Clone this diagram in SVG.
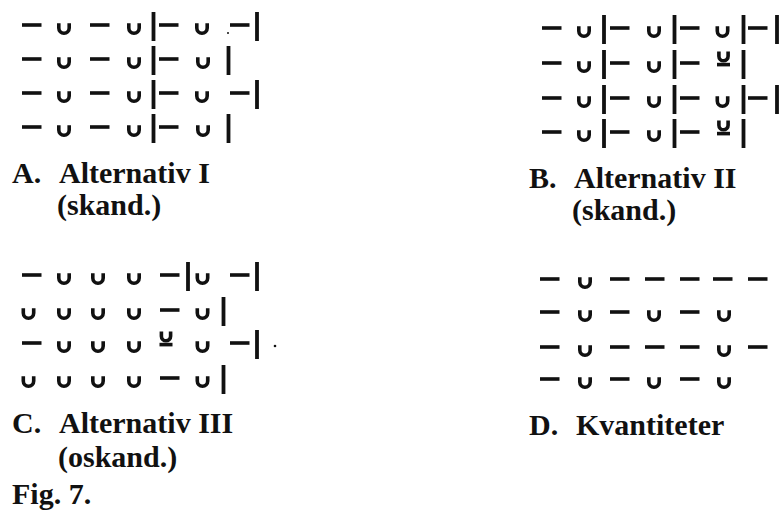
<svg xmlns="http://www.w3.org/2000/svg" xmlns:xlink="http://www.w3.org/1999/xlink" width="781" height="514" viewBox="0 0 781 514">
<style>
.lbl{font-family:"Liberation Serif","Times New Roman",serif;font-weight:bold;font-size:30px;fill:#111}
.s{stroke:#111;stroke-width:3.6;fill:none;stroke-linecap:butt}
</style>
<defs>
<path id="d" class="s" d="M0,0h19.5"/>
<path id="b" class="s" d="M-5.2,-1.8V3A5.2,5.2 0 0 0 5.2,3V-1.8"/>
<rect id="v" x="-1.9" y="-13" width="3.8" height="29" fill="#111"/>
<g id="x">
<path class="s" d="M-4.6,-11.5V-6.8A4.6,4.6 0 0 0 4.6,-6.8V-11.5"/>
<path class="s" d="M-6.5,1.6h13"/>
</g>
</defs>
<rect width="781" height="514" fill="#fff"/>

<g id="panelA">
<g transform="translate(0,25)">
<use href="#d" x="22"/><use href="#b" x="64"/><use href="#d" x="90"/><use href="#b" x="134"/><use href="#v" x="153.5"/><use href="#d" x="159"/><use href="#b" x="202"/><circle cx="228" cy="8" r="1" fill="#111"/><use href="#d" x="230"/><use href="#v" x="257"/>
</g>
<g transform="translate(0,59)">
<use href="#d" x="22"/><use href="#b" x="64"/><use href="#d" x="90"/><use href="#b" x="134"/><use href="#v" x="153.5"/><use href="#d" x="159"/><use href="#b" x="203"/><use href="#v" x="228.5"/>
</g>
<g transform="translate(0,93)">
<use href="#d" x="22"/><use href="#b" x="64"/><use href="#d" x="90"/><use href="#b" x="134"/><use href="#v" x="153.5"/><use href="#d" x="159"/><use href="#b" x="202"/><use href="#d" x="230"/><use href="#v" x="257"/>
</g>
<g transform="translate(0,127)">
<use href="#d" x="22"/><use href="#b" x="64"/><use href="#d" x="90"/><use href="#b" x="134"/><use href="#v" x="153.5"/><use href="#d" x="159"/><use href="#b" x="203"/><use href="#v" x="228.5"/>
</g>
<text class="lbl" x="12" y="183">A.</text>
<text class="lbl" x="59" y="183">Alternativ I</text>
<text class="lbl" x="57" y="215">(skand.)</text>
</g>

<g id="panelB">
<g transform="translate(0,28)">
<use href="#d" x="542"/><use href="#b" x="584"/><use href="#v" x="604"/><use href="#d" x="610"/><use href="#b" x="654"/><use href="#v" x="674.5"/><use href="#d" x="680"/><use href="#b" x="722.5"/><use href="#v" x="743.5"/><use href="#d" x="748"/><use href="#v" x="777"/>
</g>
<g transform="translate(0,63)">
<use href="#d" x="542"/><use href="#b" x="584"/><use href="#v" x="604"/><use href="#d" x="610"/><use href="#b" x="654"/><use href="#v" x="674.5"/><use href="#d" x="680"/><use href="#x" x="723.5"/><use href="#v" x="743.5"/>
</g>
<g transform="translate(0,98)">
<use href="#d" x="542"/><use href="#b" x="584"/><use href="#v" x="604"/><use href="#d" x="610"/><use href="#b" x="654"/><use href="#v" x="674.5"/><use href="#d" x="680"/><use href="#b" x="722.5"/><use href="#v" x="743.5"/><use href="#d" x="748"/><use href="#v" x="777"/>
</g>
<g transform="translate(0,132)">
<use href="#d" x="542"/><use href="#b" x="584"/><use href="#v" x="604"/><use href="#d" x="610"/><use href="#b" x="654"/><use href="#v" x="674.5"/><use href="#d" x="680"/><use href="#x" x="723.5"/><use href="#v" x="743.5"/>
</g>
<text class="lbl" x="529" y="188">B.</text>
<text class="lbl" x="574" y="188">Alternativ II</text>
<text class="lbl" x="572" y="220">(skand.)</text>
</g>

<g id="panelC">
<g transform="translate(0,275)">
<use href="#d" x="22"/><use href="#b" x="64"/><use href="#b" x="98"/><use href="#b" x="134"/><use href="#d" x="160"/><use href="#v" x="188"/><use href="#b" x="202.5"/><use href="#d" x="230"/><use href="#v" x="257"/>
</g>
<g transform="translate(0,310)">
<use href="#b" x="28.5"/><use href="#b" x="64"/><use href="#b" x="98"/><use href="#b" x="134"/><use href="#d" x="160"/><use href="#b" x="202.5"/><use href="#v" x="223.5"/>
</g>
<g transform="translate(0,343)">
<use href="#d" x="22"/><use href="#b" x="64"/><use href="#b" x="98"/><use href="#b" x="134"/><use href="#x" x="166"/><use href="#b" x="202.5"/><use href="#d" x="230"/><use href="#v" x="257"/><circle cx="275" cy="3" r="1.3" fill="#111"/>
</g>
<g transform="translate(0,378)">
<use href="#b" x="28.5"/><use href="#b" x="64"/><use href="#b" x="98"/><use href="#b" x="134"/><use href="#d" x="160"/><use href="#b" x="202.5"/><use href="#v" x="223.5"/>
</g>
<text class="lbl" x="12" y="433">C.</text>
<text class="lbl" x="59" y="433">Alternativ III</text>
<text class="lbl" x="58" y="467">(oskand.)</text>
</g>

<g id="panelD">
<g transform="translate(0,279)">
<use href="#d" x="540"/><use href="#b" x="585"/><use href="#d" x="610"/><use href="#d" x="645"/><use href="#d" x="680"/><use href="#d" x="713"/><use href="#d" x="748"/>
</g>
<g transform="translate(0,312)">
<use href="#d" x="540"/><use href="#b" x="585"/><use href="#d" x="610"/><use href="#b" x="654"/><use href="#d" x="680"/><use href="#b" x="724"/>
</g>
<g transform="translate(0,347)">
<use href="#d" x="540"/><use href="#b" x="585"/><use href="#d" x="610"/><use href="#d" x="645"/><use href="#d" x="680"/><use href="#b" x="724"/><use href="#d" x="748"/>
</g>
<g transform="translate(0,379)">
<use href="#d" x="540"/><use href="#b" x="585"/><use href="#d" x="610"/><use href="#b" x="654"/><use href="#d" x="680"/><use href="#b" x="724"/>
</g>
<text class="lbl" x="529" y="435">D.</text>
<text class="lbl" x="576" y="435">Kvantiteter</text>
</g>

<text id="caption" class="lbl" x="12" y="504">Fig. 7.</text>
</svg>
